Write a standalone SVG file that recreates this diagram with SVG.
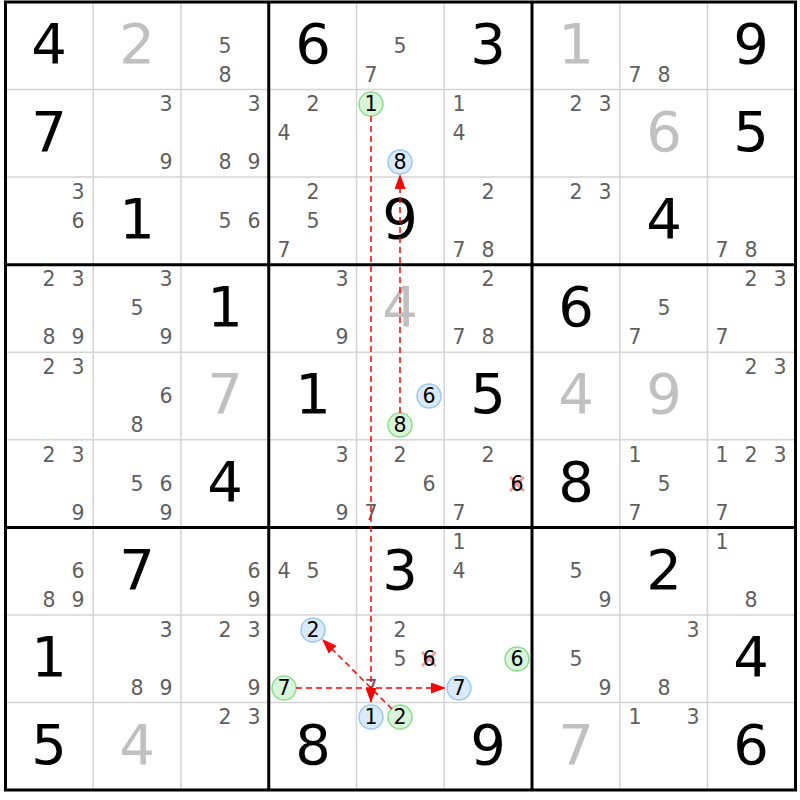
<svg xmlns="http://www.w3.org/2000/svg" width="800" height="800" viewBox="0 0 800 800">
<defs>
<style>
text{font-family:"DejaVu Sans","Liberation Sans",sans-serif;text-anchor:middle}
.g{font-size:56px;fill:#000}
.s{font-size:56px;fill:#c0c0c0}
.c{font-size:20.5px;fill:#5f5f5f}
.k{font-size:20.5px;fill:#000}
.cg{fill:#d9f5d9;stroke:#8edc8e;stroke-width:1.5}
.cbl{fill:#d9eafc;stroke:#99c9f2;stroke-width:1.5}
.thin{stroke:#d4d4d4;stroke-width:1.5}
.thick{stroke:#000;stroke-width:3}
.x{stroke:#f29a9a;stroke-width:2.5}
.ln{stroke:#ff0000;stroke-width:1.5;stroke-dasharray:6,4;fill:none}
</style>
<marker id="ah" markerUnits="userSpaceOnUse" markerWidth="16" markerHeight="11" refX="15" refY="5.5" orient="auto">
<path d="M0,0 L15,5.5 L0,11 z" fill="#ff0000"/>
</marker>
</defs>
<rect x="0" y="0" width="800" height="800" fill="#fff"/>
<g id="grid">
<path class="thin" d="M93.25,2V790M181,2V790M356.5,2V790M444.25,2V790M619.75,2V790M707.5,2V790M5.5,89.56H795.5M5.5,177.1H795.5M5.5,352.2H795.5M5.5,439.8H795.5M5.5,614.9H795.5M5.5,702.5H795.5"/>
<path class="thick" d="M268.75,2V790M532,2V790M5.5,264.7H795.5M5.5,527.4H795.5"/>
<rect class="thick" x="5.5" y="2" width="790" height="788" fill="none"/>
</g>
<g id="r1c1"><text class="g" x="49" y="63">4</text></g>
<g id="r1c2"><text class="s" x="137" y="63">2</text></g>
<g id="r1c3"><text class="c" x="225" y="53">5</text><text class="c" x="225" y="82">8</text></g>
<g id="r1c4"><text class="g" x="313" y="63">6</text></g>
<g id="r1c5"><text class="c" x="400" y="53">5</text><text class="c" x="371" y="82">7</text></g>
<g id="r1c6"><text class="g" x="488" y="63">3</text></g>
<g id="r1c7"><text class="s" x="576" y="63">1</text></g>
<g id="r1c8"><text class="c" x="635" y="82">7</text><text class="c" x="664" y="82">8</text></g>
<g id="r1c9"><text class="g" x="751" y="63">9</text></g>

<g id="r2c1"><text class="g" x="49" y="151">7</text></g>
<g id="r2c2"><text class="c" x="166" y="111">3</text><text class="c" x="166" y="169">9</text></g>
<g id="r2c3"><text class="c" x="254" y="111">3</text><text class="c" x="225" y="169">8</text><text class="c" x="254" y="169">9</text></g>
<g id="r2c4"><text class="c" x="313" y="111">2</text><text class="c" x="284" y="140">4</text></g>
<g id="r2c5"><circle class="cg" cx="371" cy="104" r="12"/><text class="k" x="371" y="111">1</text><circle class="cbl" cx="400" cy="162" r="12"/><text class="k" x="400" y="169">8</text></g>
<g id="r2c6"><text class="c" x="459" y="111">1</text><text class="c" x="459" y="140">4</text></g>
<g id="r2c7"><text class="c" x="576" y="111">2</text><text class="c" x="605" y="111">3</text></g>
<g id="r2c8"><text class="s" x="664" y="151">6</text></g>
<g id="r2c9"><text class="g" x="751" y="151">5</text></g>

<g id="r3c1"><text class="c" x="78" y="199">3</text><text class="c" x="78" y="228">6</text></g>
<g id="r3c2"><text class="g" x="137" y="238">1</text></g>
<g id="r3c3"><text class="c" x="225" y="228">5</text><text class="c" x="254" y="228">6</text></g>
<g id="r3c4"><text class="c" x="313" y="199">2</text><text class="c" x="313" y="228">5</text><text class="c" x="284" y="257">7</text></g>
<g id="r3c5"><text class="g" x="400" y="238">9</text></g>
<g id="r3c6"><text class="c" x="488" y="199">2</text><text class="c" x="459" y="257">7</text><text class="c" x="488" y="257">8</text></g>
<g id="r3c7"><text class="c" x="576" y="199">2</text><text class="c" x="605" y="199">3</text></g>
<g id="r3c8"><text class="g" x="664" y="238">4</text></g>
<g id="r3c9"><text class="c" x="722" y="257">7</text><text class="c" x="751" y="257">8</text></g>

<g id="r4c1"><text class="c" x="49" y="286">2</text><text class="c" x="78" y="286">3</text><text class="c" x="49" y="344">8</text><text class="c" x="78" y="344">9</text></g>
<g id="r4c2"><text class="c" x="166" y="286">3</text><text class="c" x="137" y="315">5</text><text class="c" x="166" y="344">9</text></g>
<g id="r4c3"><text class="g" x="225" y="326">1</text></g>
<g id="r4c4"><text class="c" x="342" y="286">3</text><text class="c" x="342" y="344">9</text></g>
<g id="r4c5"><text class="s" x="400" y="326">4</text></g>
<g id="r4c6"><text class="c" x="488" y="286">2</text><text class="c" x="459" y="344">7</text><text class="c" x="488" y="344">8</text></g>
<g id="r4c7"><text class="g" x="576" y="326">6</text></g>
<g id="r4c8"><text class="c" x="664" y="315">5</text><text class="c" x="635" y="344">7</text></g>
<g id="r4c9"><text class="c" x="751" y="286">2</text><text class="c" x="780" y="286">3</text><text class="c" x="722" y="344">7</text></g>

<g id="r5c1"><text class="c" x="49" y="374">2</text><text class="c" x="78" y="374">3</text></g>
<g id="r5c2"><text class="c" x="166" y="403">6</text><text class="c" x="137" y="432">8</text></g>
<g id="r5c3"><text class="s" x="225" y="413">7</text></g>
<g id="r5c4"><text class="g" x="313" y="413">1</text></g>
<g id="r5c5"><circle class="cbl" cx="429" cy="396" r="12"/><text class="k" x="429" y="403">6</text><circle class="cg" cx="400" cy="425" r="12"/><text class="k" x="400" y="432">8</text></g>
<g id="r5c6"><text class="g" x="488" y="413">5</text></g>
<g id="r5c7"><text class="s" x="576" y="413">4</text></g>
<g id="r5c8"><text class="s" x="664" y="413">9</text></g>
<g id="r5c9"><text class="c" x="751" y="374">2</text><text class="c" x="780" y="374">3</text></g>

<g id="r6c1"><text class="c" x="49" y="462">2</text><text class="c" x="78" y="462">3</text><text class="c" x="78" y="520">9</text></g>
<g id="r6c2"><text class="c" x="137" y="491">5</text><text class="c" x="166" y="491">6</text><text class="c" x="166" y="520">9</text></g>
<g id="r6c3"><text class="g" x="225" y="501">4</text></g>
<g id="r6c4"><text class="c" x="342" y="462">3</text><text class="c" x="342" y="520">9</text></g>
<g id="r6c5"><text class="c" x="400" y="462">2</text><text class="c" x="429" y="491">6</text><text class="c" x="371" y="520">7</text></g>
<g id="r6c6"><text class="c" x="488" y="462">2</text><path class="x" d="M510,477L524,491M524,477L510,491"/><text class="k" x="517" y="491">6</text><text class="c" x="459" y="520">7</text></g>
<g id="r6c7"><text class="g" x="576" y="501">8</text></g>
<g id="r6c8"><text class="c" x="635" y="462">1</text><text class="c" x="664" y="491">5</text><text class="c" x="635" y="520">7</text></g>
<g id="r6c9"><text class="c" x="722" y="462">1</text><text class="c" x="751" y="462">2</text><text class="c" x="780" y="462">3</text><text class="c" x="722" y="520">7</text></g>

<g id="r7c1"><text class="c" x="78" y="578">6</text><text class="c" x="49" y="607">8</text><text class="c" x="78" y="607">9</text></g>
<g id="r7c2"><text class="g" x="137" y="589">7</text></g>
<g id="r7c3"><text class="c" x="254" y="578">6</text><text class="c" x="254" y="607">9</text></g>
<g id="r7c4"><text class="c" x="284" y="578">4</text><text class="c" x="313" y="578">5</text></g>
<g id="r7c5"><text class="g" x="400" y="589">3</text></g>
<g id="r7c6"><text class="c" x="459" y="549">1</text><text class="c" x="459" y="578">4</text></g>
<g id="r7c7"><text class="c" x="576" y="578">5</text><text class="c" x="605" y="607">9</text></g>
<g id="r7c8"><text class="g" x="664" y="589">2</text></g>
<g id="r7c9"><text class="c" x="722" y="549">1</text><text class="c" x="751" y="607">8</text></g>

<g id="r8c1"><text class="g" x="49" y="676">1</text></g>
<g id="r8c2"><text class="c" x="166" y="637">3</text><text class="c" x="137" y="695">8</text><text class="c" x="166" y="695">9</text></g>
<g id="r8c3"><text class="c" x="225" y="637">2</text><text class="c" x="254" y="637">3</text><text class="c" x="254" y="695">9</text></g>
<g id="r8c4"><circle class="cbl" cx="313" cy="630" r="12"/><text class="k" x="313" y="637">2</text><circle class="cg" cx="284" cy="688" r="12"/><text class="k" x="284" y="695">7</text></g>
<g id="r8c5"><text class="c" x="400" y="637">2</text><text class="c" x="400" y="666">5</text><path class="x" d="M422,652L436,666M436,652L422,666"/><text class="k" x="429" y="666">6</text><text class="c" x="371" y="695">7</text></g>
<g id="r8c6"><circle class="cg" cx="517" cy="659" r="12"/><text class="k" x="517" y="666">6</text><circle class="cbl" cx="459" cy="688" r="12"/><text class="k" x="459" y="695">7</text></g>
<g id="r8c7"><text class="c" x="576" y="666">5</text><text class="c" x="605" y="695">9</text></g>
<g id="r8c8"><text class="c" x="693" y="637">3</text><text class="c" x="664" y="695">8</text></g>
<g id="r8c9"><text class="g" x="751" y="676">4</text></g>

<g id="r9c1"><text class="g" x="49" y="764">5</text></g>
<g id="r9c2"><text class="s" x="137" y="764">4</text></g>
<g id="r9c3"><text class="c" x="225" y="724">2</text><text class="c" x="254" y="724">3</text></g>
<g id="r9c4"><text class="g" x="313" y="764">8</text></g>
<g id="r9c5"><circle class="cbl" cx="371" cy="717" r="12"/><text class="k" x="371" y="724">1</text><circle class="cg" cx="400" cy="717" r="12"/><text class="k" x="400" y="724">2</text></g>
<g id="r9c6"><text class="g" x="488" y="764">9</text></g>
<g id="r9c7"><text class="s" x="576" y="764">7</text></g>
<g id="r9c8"><text class="c" x="635" y="724">1</text><text class="c" x="693" y="724">3</text></g>
<g id="r9c9"><text class="g" x="751" y="764">6</text></g>

<g id="connectors">
<line class="ln" x1="371" y1="116" x2="371" y2="703" marker-end="url(#ah)"/>
<line class="ln" x1="400" y1="413" x2="400" y2="174" marker-end="url(#ah)"/>
<line class="ln" x1="296" y1="688" x2="446" y2="688" marker-end="url(#ah)"/>
<line class="ln" x1="392" y1="709" x2="322" y2="639" marker-end="url(#ah)"/>
</g>
</svg>
